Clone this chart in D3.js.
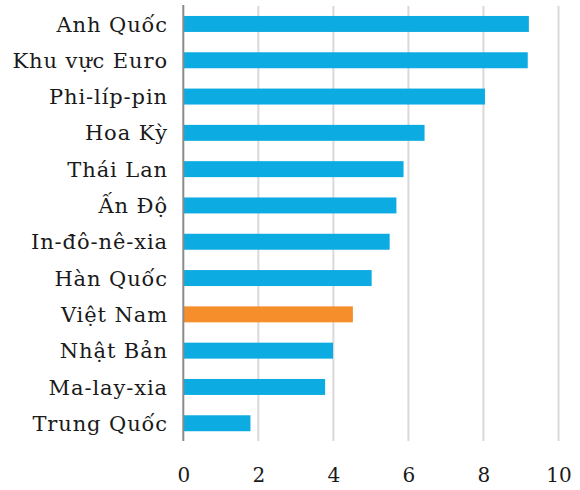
<!DOCTYPE html>
<html><head><meta charset="utf-8">
<script src="https://cdn.jsdelivr.net/npm/d3@7"></script>
<style>body{margin:0;background:#fff}svg text{font-family:"DejaVu Serif",serif;fill:#1a1a1a}</style>
</head><body><svg id="c" width="580" height="490"></svg>
<script>
const categories = ["Anh Quốc","Khu vực Euro","Phi-líp-pin","Hoa Kỳ","Thái Lan","Ấn Độ","In-đô-nê-xia","Hàn Quốc","Việt Nam","Nhật Bản","Ma-lay-xia","Trung Quốc"];
const values = [9.21,9.18,8.04,6.43,5.87,5.68,5.5,5.02,4.52,3.99,3.78,1.79];
const highlight = ["Việt Nam"];
const xTicks = [0,2,4,6,8,10];

const svg = d3.select("#c");
const x = d3.scaleLinear().domain([0,10]).range([183.3,558.5]);
const y = d3.scaleBand().domain(categories).range([5.8,441.4]).paddingInner(0.56).paddingOuter(0.28);

svg.append("g").selectAll("line").data(xTicks.slice(1)).join("line")
  .attr("x1",d=>x(d)).attr("x2",d=>x(d)).attr("y1",6).attr("y2",441)
  .attr("stroke","#d9d9d9").attr("stroke-width",2);

svg.append("g").selectAll("rect").data(categories).join("rect")
  .attr("x",x(0)).attr("y",d=>y(d)).attr("height",y.bandwidth())
  .attr("width",(d,i)=>x(values[i])-x(0))
  .attr("fill",d=>highlight.includes(d)?"#f68e2b":"#0cace3");

svg.append("line").attr("x1",x(0)).attr("x2",x(0)).attr("y1",5).attr("y2",441)
  .attr("stroke","#8a8a8a").attr("stroke-width",2);

svg.append("g").selectAll("text").data(categories).join("text")
  .attr("x",168).attr("y",d=>y(d)+y.bandwidth()/2).attr("dy","0.36em")
  .attr("text-anchor","end").attr("font-size",21).attr("letter-spacing","0.9px").text(d=>d);

const ax = d3.axisBottom(x).tickValues(xTicks).tickSize(0).tickPadding(0).tickFormat(d3.format("d"));
const g = svg.append("g").attr("transform","translate(0,482)").call(ax);
g.select(".domain").remove();
g.selectAll("text").attr("font-size",20).attr("dy",null).style("font-family","DejaVu Serif");
</script></body></html>
